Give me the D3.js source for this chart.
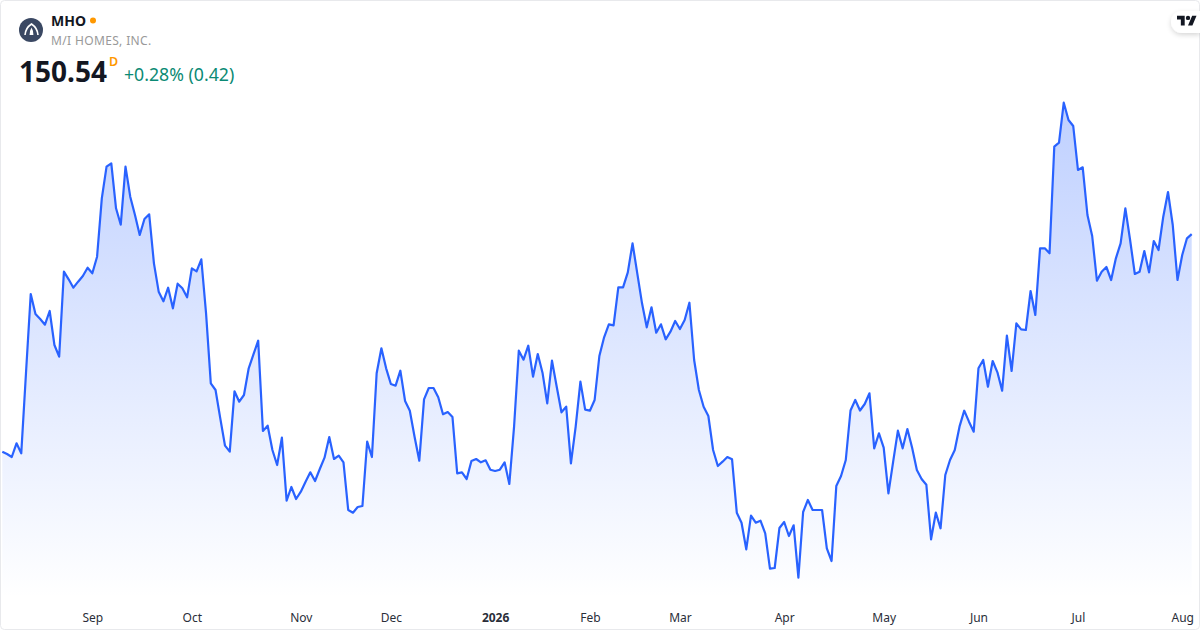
<!DOCTYPE html>
<html>
<head>
<meta charset="utf-8">
<title>MHO</title>
<script src="https://cdnjs.cloudflare.com/ajax/libs/d3/7.8.5/d3.min.js"></script>
<style>
    body { margin: 0; background: #fff; }
    svg { display: block; font-family: "Noto Sans", sans-serif; }
    .axis path, .axis line { display: none; }
    .axis text { font-family: "Noto Sans", sans-serif; font-size: 12px; fill: #2a2e39; }
</style>
</head>
<body>
<svg id="chart" width="1200" height="630"></svg>
<script>
// daily closes, one per trading day
const closes = [
    115.73, 115.36, 114.88, 117.07, 115.47, 128.32, 140.96, 137.76, 136.96, 136.05,
    138.24, 132.80, 130.93, 144.53, 143.31, 141.97, 142.93, 143.84, 145.17, 144.27,
    146.93, 156.27, 161.33, 161.87, 154.67, 152.05, 161.33, 156.53, 153.60, 150.40,
    152.96, 153.71, 145.87, 141.33, 139.79, 141.97, 138.67, 142.61, 141.87, 140.43,
    145.07, 144.59, 146.51, 137.87, 126.67, 125.60, 121.07, 116.69, 115.73, 125.39,
    123.73, 124.80, 129.07, 131.31, 133.49, 119.04, 119.89, 116.00, 113.60, 117.97,
    107.89, 110.08, 108.16, 109.33, 110.93, 112.43, 111.04, 112.96, 114.77, 118.08,
    114.56, 115.09, 114.03, 106.40, 105.97, 106.88, 107.04, 117.33, 114.88, 128.27,
    132.27, 129.07, 126.56, 126.29, 128.69, 123.84, 122.29, 118.13, 114.29, 124.11,
    125.92, 125.92, 124.43, 121.71, 122.08, 121.28, 112.27, 112.43, 111.36, 114.24,
    114.56, 114.03, 114.35, 112.85, 112.64, 112.85, 114.03, 110.56, 119.73, 131.89,
    130.45, 132.69, 127.73, 131.36, 128.37, 123.47, 130.29, 126.13, 122.03, 122.93,
    113.87, 119.73, 126.93, 122.45, 122.29, 124.00, 131.04, 134.03, 136.11, 135.95,
    142.03, 142.03, 144.43, 149.07, 144.27, 139.47, 135.63, 138.83, 134.77, 136.11,
    133.71, 134.93, 136.64, 135.36, 136.80, 139.57, 130.40, 125.60, 122.93, 121.44,
    116.00, 113.44, 114.13, 114.88, 114.51, 105.97, 104.37, 100.11, 105.49, 104.37,
    104.69, 102.67, 97.01, 97.12, 103.52, 104.48, 102.24, 103.95, 95.57, 106.08,
    108.00, 106.40, 106.40, 106.40, 100.27, 98.24, 110.24, 111.84, 114.40, 122.32,
    124.00, 122.32, 123.36, 125.07, 116.27, 118.67, 116.37, 109.07, 114.13, 119.09,
    116.27, 119.36, 116.37, 112.80, 111.36, 110.45, 101.71, 105.97, 103.47, 112.00,
    114.40, 116.00, 119.73, 122.29, 120.53, 118.93, 129.07, 130.40, 126.13, 130.24,
    128.43, 125.49, 134.29, 128.64, 136.27, 135.31, 135.20, 141.44, 137.60, 148.27,
    148.27, 147.47, 164.53, 165.17, 171.57, 168.80, 167.84, 160.80, 161.23, 153.60,
    150.24, 143.09, 144.53, 145.28, 143.20, 146.67, 149.07, 154.67, 149.60, 144.16,
    144.53, 147.84, 144.43, 149.44, 148.00, 153.33, 157.28, 152.00, 143.20, 147.20,
    149.87, 150.54
];

const monthLabels = ["Sep", "Oct", "Nov", "Dec", "2026", "Feb", "Mar", "Apr", "May", "Jun", "Jul", "Aug"];
const monthIndex = [19, 40, 63, 82, 104, 124, 143, 165, 186, 206, 227, 249];

const ticker = "MHO";
const companyName = "M/I HOMES, INC.";
const lastPrice = "150.54";
const changeText = "+0.28% (0.42)";

const width = 1200, height = 630;
const plotBottom = 598;

const x = d3.scaleLinear().domain([0, closes.length - 1]).range([2.3, 1191.7]);
const y = d3.scaleLinear().domain([92, 180]).range([600, 50]);

const svg = d3.select("#chart");
const defs = svg.append("defs");

const grad = defs.append("linearGradient")
    .attr("id", "areaFill")
    .attr("gradientUnits", "userSpaceOnUse")
    .attr("x1", 0).attr("x2", 0)
    .attr("y1", y(d3.max(closes))).attr("y2", plotBottom);
grad.append("stop").attr("offset", "0%").attr("stop-color", "#2962ff").attr("stop-opacity", 0.3);
grad.append("stop").attr("offset", "100%").attr("stop-color", "#2962ff").attr("stop-opacity", 0.0);

const shadow = defs.append("filter").attr("id", "pillShadow")
    .attr("x", "-30%").attr("y", "-40%").attr("width", "160%").attr("height", "200%");
shadow.append("feDropShadow").attr("dx", 0).attr("dy", 2).attr("stdDeviation", 2.5)
    .attr("flood-color", "#000").attr("flood-opacity", 0.16);

// area + line
const area = d3.area()
    .x((d, i) => x(i))
    .y0(plotBottom)
    .y1((d) => y(d));

const line = d3.line()
    .x((d, i) => x(i))
    .y((d) => y(d));

svg.append("path")
    .datum(closes)
    .attr("fill", "url(#areaFill)")
    .attr("d", area);

svg.append("path")
    .datum(closes)
    .attr("fill", "none")
    .attr("stroke", "#2962ff")
    .attr("stroke-width", 2.2)
    .attr("stroke-linejoin", "round")
    .attr("d", line);

// time axis
const xAxis = d3.axisBottom(x)
    .tickValues(monthIndex)
    .tickSize(0)
    .tickPadding(0)
    .tickFormat((d, i) => monthLabels[i]);

const axisG = svg.append("g")
    .attr("class", "axis")
    .attr("transform", "translate(0,613)")
    .call(xAxis);
axisG.selectAll("text")
    .style("font-weight", (d, i) => monthLabels[i] === "2026" ? 700 : 400);

// card border
svg.append("rect")
    .attr("x", 0.5).attr("y", 0.5)
    .attr("width", width - 1).attr("height", height - 1)
    .attr("rx", 4)
    .attr("fill", "none")
    .attr("stroke", "#e8e9ec");

// header
const logo = svg.append("g");
logo.append("circle").attr("cx", 31).attr("cy", 30).attr("r", 12).attr("fill", "#3a4863");
logo.append("path")
    .attr("d", "M25 35 Q25.5 28 31.5 24 Q37.5 28 38 35")
    .attr("fill", "none")
    .attr("stroke", "#fff")
    .attr("stroke-width", 1.6);
logo.append("path")
    .attr("d", "M29.6 35 Q29.8 30 31.5 27.5 Q33.2 30 33.4 35 Z")
    .attr("fill", "#fff");

svg.append("text").attr("x", 51).attr("y", 26)
    .attr("font-size", 14).attr("font-weight", 700).attr("fill", "#131722")
    .text(ticker);
svg.append("circle").attr("cx", 93).attr("cy", 20.5).attr("r", 3).attr("fill", "#ff9800");
svg.append("text").attr("x", 51).attr("y", 45)
    .attr("font-size", 12).attr("fill", "#999").attr("letter-spacing", 0.35)
    .text(companyName);
svg.append("text").attr("x", 19).attr("y", 81.5)
    .attr("font-size", 28).attr("font-weight", 700).attr("fill", "#131722")
    .text(lastPrice);
svg.append("text").attr("x", 109).attr("y", 66)
    .attr("font-size", 12.5).attr("font-weight", 600).attr("fill", "#ff9800")
    .text("D");
svg.append("text").attr("x", 124).attr("y", 81)
    .attr("font-size", 17.7).attr("fill", "#0b8a74")
    .text(changeText);

// tradingview badge
svg.append("path")
    .attr("d", "M1200 11 H1182 A11 11 0 0 0 1182 33 H1200 Z")
    .attr("fill", "#fff")
    .attr("filter", "url(#pillShadow)");
svg.append("path")
    .attr("transform", "translate(1177,13.5) scale(0.55)")
    .attr("fill", "#131722")
    .attr("d", "M14 22H7V11H0V4h14v18zM28 22h-8l7.5-18h8L28 22z");
svg.append("circle")
    .attr("transform", "translate(1177,13.5) scale(0.55)")
    .attr("cx", 20).attr("cy", 8).attr("r", 4)
    .attr("fill", "#131722");
</script>
</body>
</html>
